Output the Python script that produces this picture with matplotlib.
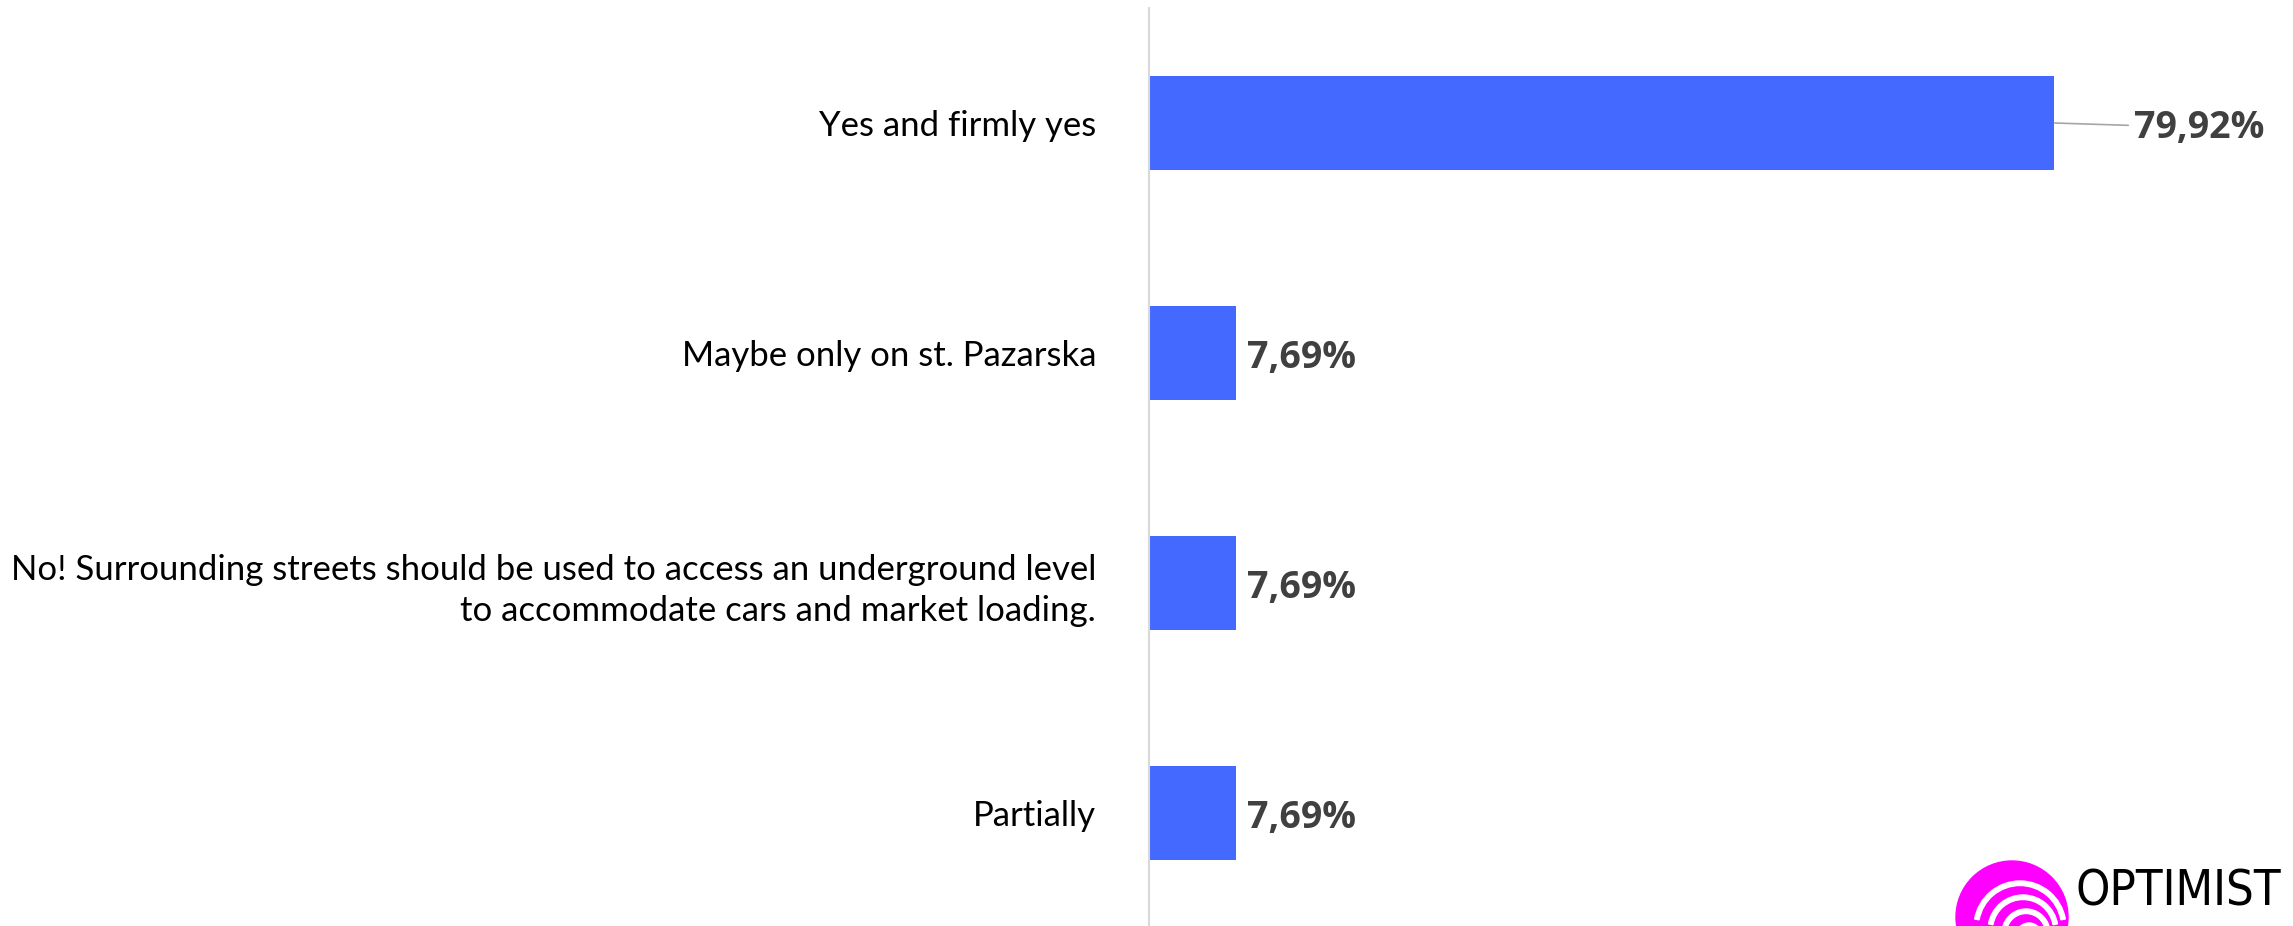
import matplotlib.pyplot as plt
from matplotlib.patches import Circle, Wedge

# Data
categories = [
    'Yes and firmly yes',
    'Maybe only on st. Pazarska',
    'No! Surrounding streets should be used to access an underground level\nto accommodate cars and market loading.',
    'Partially',
]
values = [79.92, 7.69, 7.69, 7.69]
value_labels = ['79,92%', '7,69%', '7,69%', '7,69%']

W, H = 2293, 926
fig = plt.figure(figsize=(W / 100, H / 100), dpi=100)

# main axes: y axis line at x=1149 px, 100% = 1133 px
ax = fig.add_axes([1149 / W, -2 / H, 1133 / W, 920 / H])
ypos = list(range(len(categories)))
ax.barh(ypos, values, height=0.405, color='#4469FF')
ax.set_xlim(0, 100)
ax.set_ylim(3.5, -0.5)

for s in ['top', 'right', 'bottom']:
    ax.spines[s].set_visible(False)
ax.spines['left'].set_color('#d9d9d9')
ax.spines['left'].set_linewidth(1.5)
ax.set_xticks([])
ax.set_yticks(ypos)
ax.set_yticklabels(categories, fontsize=25, family='Lato', color='black',
                   linespacing=1.35)
ax.tick_params(axis='y', length=0, pad=38)

# value labels
for i, (v, lab) in enumerate(zip(values, value_labels)):
    if v > 50:
        ax.annotate(lab, xy=(v, i), xytext=(v + 7, i + 0.02),
                    fontsize=27, fontweight='bold', color='#404040',
                    family='Open Sans', va='center', ha='left',
                    arrowprops=dict(arrowstyle='-', color='#a6a6a6', lw=1.2,
                                    shrinkA=2, shrinkB=0))
    else:
        ax.text(v + 1, i + 0.02, lab, fontsize=27, fontweight='bold',
                color='#404040', family='Open Sans', va='center', ha='left')

# logo (bottom right)
lax = fig.add_axes([0, 0, 1, 1], facecolor='none')
lax.set_xlim(0, W)
lax.set_ylim(H, 0)
lax.axis('off')
cx, cy, r = 2012, 917, 56
lax.add_patch(Circle((cx, cy), r, color='#FF00FF', zorder=1))
for k in range(4):
    rr = r - 10 - k * 11
    lax.add_patch(Wedge((cx + 8 + k * 3, cy + 10 + k * 3), rr, 190, 350,
                        width=4.5, color='white', zorder=2))
lax.text(2076, 868, 'OPTIMIST', fontsize=35, color='black',
         family='DejaVu Sans', fontstretch='condensed',
         va='top', ha='left', zorder=3)

fig.savefig('out.png', dpi=100)
